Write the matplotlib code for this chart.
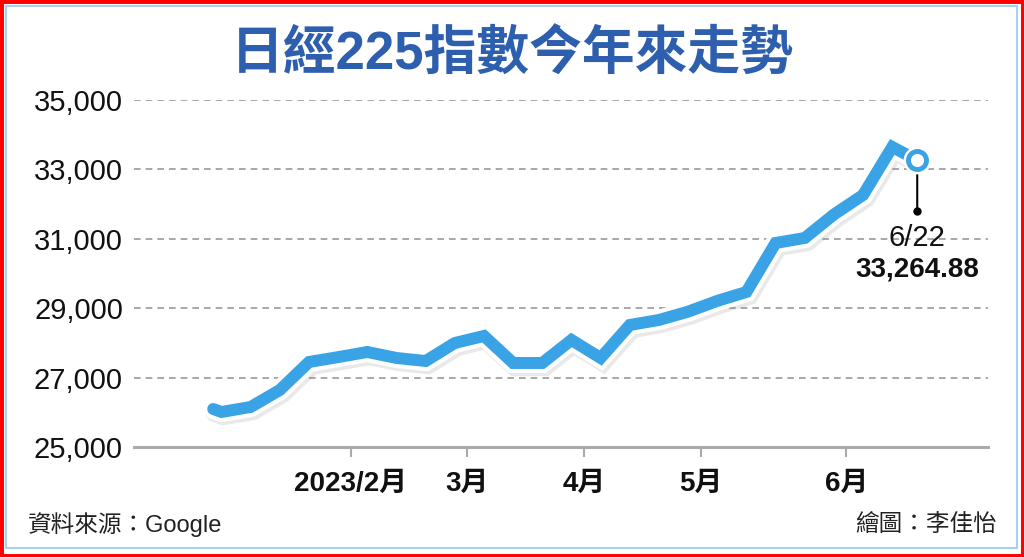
import matplotlib
matplotlib.use("Agg")
import matplotlib.pyplot as plt
import matplotlib.patheffects as pe
import matplotlib.transforms as mtransforms
from matplotlib.patches import Rectangle
import pandas as pd

## 資料 (週收盤, 由圖讀取)
dates = pd.to_datetime([
    "2023-01-04", "2023-01-06", "2023-01-13", "2023-01-20", "2023-01-27",
    "2023-02-03", "2023-02-10", "2023-02-17", "2023-02-24",
    "2023-03-03", "2023-03-10", "2023-03-17", "2023-03-24", "2023-03-31",
    "2023-04-07", "2023-04-14", "2023-04-21", "2023-04-28",
    "2023-05-05", "2023-05-12", "2023-05-19", "2023-05-26",
    "2023-06-02", "2023-06-09", "2023-06-16", "2023-06-22",
])
values = [
    26095, 26009, 26153, 26643, 27450,
    27590, 27738, 27565, 27478,
    27997, 28200, 27421, 27421, 28084,
    27565, 28516, 28660, 28900,
    29210, 29467, 30879, 31023,
    31700, 32262, 33646, 33264.88,
]
tick_dates = pd.to_datetime(["2023-02-06", "2023-03-06", "2023-04-03", "2023-05-01", "2023-06-05"])
tick_labels = ["2023/2月", "3月", "4月", "5月", "6月"]
y_ticks = [25000, 27000, 29000, 31000, 33000, 35000]
x_range = pd.to_datetime(["2022-12-16", "2023-07-09"])
title = "日經225指數今年來走勢"
last_date_label = "6/22"
last_value_label = "33,264.88"
source = "資料來源：Google"
credit = "繪圖：李佳怡"

plt.rcParams['font.family'] = ['Liberation Sans', 'Noto Sans CJK TC']
blue = '#3aa3e6'

fig = plt.figure(figsize=(10.24, 5.57), dpi=100)
ax = fig.add_axes([0.1309, 0.1975, 0.834, 0.623])

# 主線: 陰影 + 白邊 + 藍線
ax.plot(dates, values, color=blue, lw=8.6, solid_joinstyle='miter', solid_capstyle='round', zorder=3,
        path_effects=[pe.SimpleLineShadow(offset=(1.5, -2), shadow_color='#888888', alpha=0.18, linewidth=15),
                      pe.Stroke(linewidth=14.5, foreground='white'), pe.Normal()])

# 引線與最後一點
d, v = dates[-1], values[-1]
ax.annotate('', xy=(d, v), xytext=(0, -37), textcoords='offset points',
            arrowprops=dict(arrowstyle='-', color='black', lw=1.5, shrinkA=0, shrinkB=0), zorder=4)
dot_tr = mtransforms.offset_copy(ax.transData, fig=fig, x=0, y=-51, units='dots')
ax.plot([d], [v], 'o', color='black', ms=5, transform=dot_tr, zorder=4)
ax.plot([d], [v], 'o', color='white', ms=20, mew=0, zorder=5)
ax.plot([d], [v], 'o', mfc='white', mec=blue, ms=13, mew=3.5, zorder=6)

ax.annotate(last_date_label, xy=(d, v), xytext=(0, -56), textcoords='offset points',
            ha='center', va='center', fontsize=21, color='#111111')
ax.annotate(last_value_label, xy=(d, v), xytext=(0, -79), textcoords='offset points',
            ha='center', va='center', fontsize=20, fontweight='bold', color='#111111')

# 軸
ax.set_xlim(x_range[0], x_range[1])
ax.set_ylim(y_ticks[0], y_ticks[-1])
ax.set_yticks(y_ticks, [f"{t:,}" for t in y_ticks])
ax.set_xticks(tick_dates, tick_labels)
for s in ['left', 'right', 'top']:
    ax.spines[s].set_visible(False)
ax.spines['bottom'].set_color('#aaaaaa')
ax.spines['bottom'].set_linewidth(2.2)
ax.spines['bottom'].set_zorder(2)
ax.grid(axis='y', ls=(0, (4, 3)), color='#9a9a9a', lw=1.2, zorder=1)
ax.tick_params(axis='y', length=0, pad=8, labelsize=21, labelcolor='#111111')
ax.tick_params(axis='x', length=7, width=1.5, color='#aaaaaa', pad=10, labelsize=20, labelcolor='#111111')
for lab in ax.get_xticklabels():
    lab.set_fontweight('bold')

# 標題與註記
fig.text(0.5, 0.9, title, ha='center', va='center', fontsize=38, fontweight='bold', color='#2e5fae')
fig.text(28 / 1024, 1 - 525 / 557, source, ha='left', va='center', fontsize=17, color='#222222')
fig.text(997 / 1024, 1 - 525 / 557, credit, ha='right', va='center', fontsize=17, color='#222222')

# 外框
fig.patches.append(Rectangle((0, 0), 1, 1, transform=fig.transFigure, fill=False, edgecolor='#ff0000', lw=5))
fig.patches.append(Rectangle((6 / 1024, 9 / 557), 1011 / 1024, 542 / 557, transform=fig.transFigure,
                             fill=False, edgecolor='#a8d0f0', lw=1.5))

fig.savefig('out.png', dpi=100)
